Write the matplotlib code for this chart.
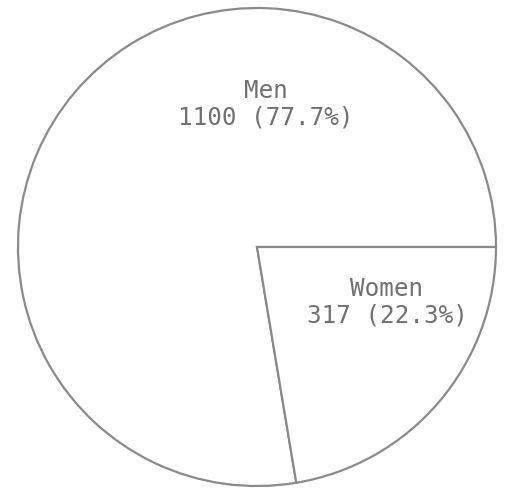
import matplotlib
matplotlib.use("Agg")
import matplotlib.pyplot as plt

labels = ["Men", "Women"]
counts = [1100, 317]
percents = [77.7, 22.3]

fig = plt.figure(figsize=(5.06, 4.95), dpi=100)
ax = fig.add_axes([0, 0, 1, 1])

# Пирог без подписей, подписи ставим отдельно
ax.pie(counts, startangle=0, counterclock=True, center=(257, 248), radius=239,
       colors=["white", "white"], frame=True,
       wedgeprops=dict(edgecolor="#8a8a8a", linewidth=1.6))
ax.set_xlim(0, 506)
ax.set_ylim(0, 495)
ax.set_aspect("equal")
ax.axis("off")

text_pos = [(266, 391), (387, 193)]
for (x, y), name, n, p in zip(text_pos, labels, counts, percents):
    ax.text(x, y, f"{name}\n{n} ({p}%)", ha="center", va="center",
            family="DejaVu Sans Mono", fontsize=17.5, color="#707070",
            linespacing=1.15)

fig.savefig("out.png", dpi=100)
